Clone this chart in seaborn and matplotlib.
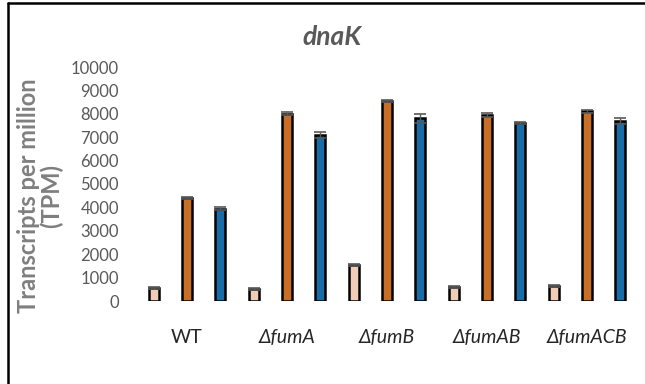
import numpy as np
import pandas as pd
import matplotlib
matplotlib.use("Agg")
import matplotlib.pyplot as plt
import matplotlib.lines as mlines
import seaborn as sns

# Data
genotypes = ["WT", "\u0394fumA", "\u0394fumB", "\u0394fumAB", "\u0394fumACB"]
conditions = ["Condition 1", "Condition 2", "Condition 3"]
tpm_cond1 = [550, 500, 1550, 600, 650]
tpm_cond2 = [4400, 8000, 8550, 7950, 8100]
tpm_cond3 = [3950, 7100, 7800, 7600, 7700]
err_cond1 = [40, 40, 40, 40, 40]
err_cond2 = [50, 60, 60, 70, 70]
err_cond3 = [50, 130, 180, 50, 130]
bar_colors = ["#F8CBAD", "#E46C0A", "#0070C0"]

df = pd.DataFrame({
    "genotype": genotypes * 3,
    "condition": np.repeat(conditions, len(genotypes)),
    "tpm": tpm_cond1 + tpm_cond2 + tpm_cond3,
    "err": err_cond1 + err_cond2 + err_cond3,
})

sns.set_style("white")
plt.rcParams["font.family"] = ["Lato", "DejaVu Sans"]

fig = plt.figure(figsize=(6.45, 3.84), dpi=100)
ax = fig.add_axes([137 / 645, 1 - 301 / 384, 500 / 645, 234 / 384])

sns.barplot(data=df, x="genotype", y="tpm", hue="condition", order=genotypes,
            hue_order=conditions, palette=bar_colors, width=1.0, gap=0.7,
            errorbar=None, edgecolor="black", linewidth=1.8, legend=False, ax=ax)

# error bars on the seaborn bar centres
for cont, cond in zip(ax.containers, conditions):
    sub = df[df["condition"] == cond].set_index("genotype").loc[genotypes]
    xs = [p.get_x() + p.get_width() / 2 for p in cont.patches]
    ax.errorbar(xs, sub["tpm"], yerr=sub["err"], fmt="none", ecolor="#595959",
                elinewidth=1.0, capsize=4, capthick=1.2, zorder=5)

ax.set_xlim(-0.5, 4.5)
ax.set_ylim(0, 10000)
ax.set_yticks(np.arange(0, 10001, 1000))
ax.tick_params(axis="y", length=0, pad=13, labelsize=12, labelcolor="#595959")
ax.tick_params(axis="x", length=0, pad=20, labelsize=14, labelcolor="#262626")
for lbl in ax.get_xticklabels():
    if lbl.get_text() != "WT":
        lbl.set_style("italic")
ax.set_xlabel("")
ax.set_ylabel("")
sns.despine(ax=ax, left=True, bottom=True)

fig.text(40 / 645, 1 - 196 / 384, "Transcripts per million\n(TPM)", rotation=90,
         ha="center", va="center", fontsize=17, fontweight="bold", color="#7F7F7F",
         linespacing=0.95)
fig.text(332 / 645, 1 - 37 / 384, "dnaK", ha="center", va="center", fontsize=19,
         fontweight="bold", style="italic", color="#595959")

# outer frame (left and top edges visible)
fig.add_artist(mlines.Line2D([8 / 645, 8 / 645], [0, 1 - 3 / 384], color="black", lw=1.8))
fig.add_artist(mlines.Line2D([8 / 645, 1], [1 - 3 / 384, 1 - 3 / 384], color="black", lw=1.8))

fig.savefig("out.png", dpi=100)
